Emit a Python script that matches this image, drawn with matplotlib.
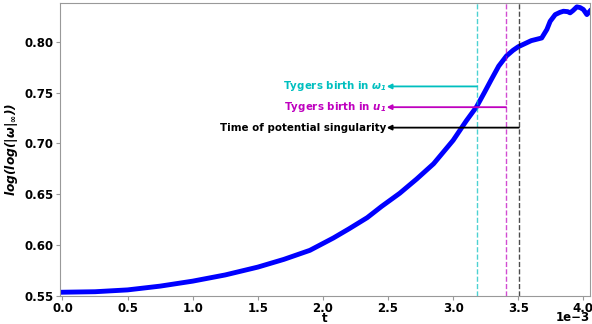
import matplotlib
matplotlib.use("Agg")
import matplotlib.pyplot as plt

# time (in 1e-3 units) and log(log(|w|_inf))
t_ms = [0.0, 0.25, 0.5, 0.75, 1.0, 1.25, 1.5, 1.7, 1.9, 2.08, 2.2, 2.34, 2.45,
        2.59, 2.72, 2.85, 3.0, 3.1, 3.18, 3.24, 3.29, 3.35, 3.41, 3.46, 3.5,
        3.6, 3.68, 3.72, 3.745, 3.784, 3.82, 3.847, 3.88, 3.898, 3.92, 3.95,
        3.975, 4.0, 4.027, 4.05]
loglog_w = [0.5537, 0.5542, 0.556, 0.5597, 0.5646, 0.5707, 0.5784, 0.586,
            0.5949, 0.607, 0.616, 0.627, 0.638, 0.651, 0.665, 0.680, 0.703,
            0.722, 0.736, 0.750, 0.762, 0.776, 0.786, 0.7915, 0.795, 0.801,
            0.8036, 0.812, 0.820, 0.8266, 0.8288, 0.8299, 0.8295, 0.8283,
            0.8305, 0.8342, 0.8335, 0.8316, 0.8266, 0.830]

# event times (in 1e-3 units) and the heights of their labels
t_omega_birth = 3.183
t_u_birth = 3.407
t_singular = 3.505
label_end = 2.49
y_omega, y_u, y_sing = 0.756, 0.7356, 0.7155

t = [v * 1e-3 for v in t_ms]

fig, ax = plt.subplots(figsize=(5.92, 3.24), dpi=100)
fig.subplots_adjust(left=60 / 592, right=590 / 592, top=1 - 3 / 324, bottom=1 - 296 / 324)

ax.plot(t, loglog_w, color="blue", lw=3.5, solid_joinstyle="round")

ax.axvline(t_omega_birth * 1e-3, color="c", ls="--", lw=1, alpha=0.7)
ax.axvline(t_u_birth * 1e-3, color="m", ls="--", lw=1, alpha=0.7)
ax.axvline(t_singular * 1e-3, color="k", ls="--", lw=1, alpha=0.7)

events = [
    (t_omega_birth, y_omega, "c", r"Tygers birth in $\mathbfit{\omega_1}$"),
    (t_u_birth, y_u, "m", r"Tygers birth in $\mathbfit{u_1}$"),
    (t_singular, y_sing, "k", "Time of potential singularity"),
]
for t_ev, y_ev, col, txt in events:
    ax.annotate("", xy=(label_end * 1e-3, y_ev), xytext=(t_ev * 1e-3, y_ev),
                arrowprops=dict(arrowstyle="-|>", color=col, lw=1.3, mutation_scale=7,
                                shrinkA=0, shrinkB=0))
    ax.text(label_end * 1e-3, y_ev, txt, color=col, ha="right", va="center",
            fontsize=7.4, fontweight="bold")

ax.set_xlim(-0.019e-3, 4.051e-3)
ax.set_ylim(0.55, 0.838)
ax.set_xticks([i * 0.5e-3 for i in range(9)])
ax.set_yticks([0.55, 0.60, 0.65, 0.70, 0.75, 0.80])
ax.set_yticklabels(["0.55", "0.60", "0.65", "0.70", "0.75", "0.80"])
ax.ticklabel_format(axis="x", style="sci", scilimits=(0, 0))

ax.set_xlabel("t", fontsize=8.5, fontweight="bold", labelpad=-2)
ax.set_ylabel(r"$\mathbfit{log(log(|\omega|_\infty))}$", fontsize=8.8, labelpad=3)
for lab in ax.get_xticklabels() + ax.get_yticklabels():
    lab.set_fontweight("bold")
    lab.set_fontsize(8.5)
off = ax.xaxis.get_offset_text()
off.set_fontweight("bold")
off.set_fontsize(8.5)
# pull the 1e-3 multiplier up against the tick labels
ax.xaxis.OFFSETTEXTPAD = -3

for sp in ax.spines.values():
    sp.set_color("#999999")
ax.tick_params(colors="#999999", labelcolor="black", length=3, pad=1.5)

fig.savefig("out.png", dpi=100)
